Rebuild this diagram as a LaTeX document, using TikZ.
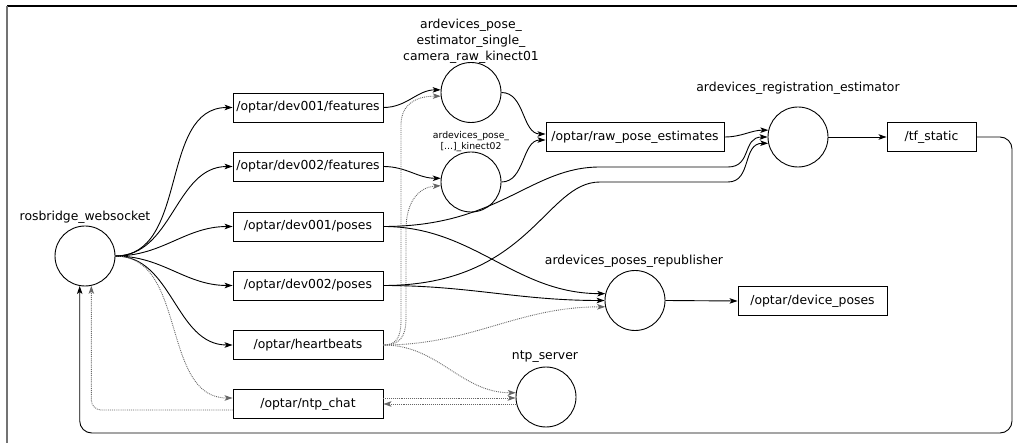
\documentclass[tikz,border=0pt]{standalone}
\usepackage{fontspec}
\setmainfont{DejaVu Sans}
\usetikzlibrary{arrows.meta,calc}
\begin{document}
\begin{tikzpicture}[x=1pt,y=-1pt,
  topic/.style={draw,line width=0.9pt,minimum height=29pt,inner sep=3pt,
    font=\fontsize{12.4}{15}\selectfont},
  proc/.style={draw,circle,line width=0.9pt,minimum size=60pt,inner sep=0pt},
  lbl/.style={font=\fontsize{12.4}{16}\selectfont,align=center,inner sep=0pt},
  smalllbl/.style={font=\fontsize{9.3}{11}\selectfont,align=center,inner sep=0pt},
  flow/.style={line width=0.9pt,-{Stealth[length=8pt,width=5.5pt,inset=2pt]}},
  ping/.style={flow,densely dotted,draw=black!60}
]
\useasboundingbox (0,0) rectangle (1017,443);

% frame
\draw[line width=1.2pt] (7,6) -- (1017,6);
\draw[black!55,line width=1.5pt] (7,6) -- (7,443);

% processes
\node[proc] (rb)  at (85,256)    {};
\node[lbl]  (rbl) at (85,217)    {rosbridge\_websocket};
\node[proc] (k1)  at (471,92.5)  {};
\node[lbl]  (k1l) at (471,41)    {ardevices\_pose\_\\estimator\_single\_\\camera\_raw\_kinect01};
\node[proc] (k2)  at (471,182)   {};
\node[smalllbl] (k2l) at (471,141.5) {ardevices\_pose\_\\{[}...{]}\_kinect02};
\node[proc] (reg) at (798,137)   {};
\node[lbl]  (regl) at (798,88)   {ardevices\_registration\_estimator};
\node[proc] (rep) at (635,300.5) {};
\node[lbl]  (repl) at (634,261)  {ardevices\_poses\_republisher};
\node[proc] (ntp) at (546,397)   {};
\node[lbl]  (ntpl) at (545,357)  {ntp\_server};

% topics
\node[topic,minimum width=150pt] (f1) at (308,107.5) {/optar/dev001/features};
\node[topic,minimum width=150pt] (f2) at (308,166.5) {/optar/dev002/features};
\node[topic,minimum width=150pt] (p1) at (308,226.5) {/optar/dev001/poses};
\node[topic,minimum width=150pt] (p2) at (308,285.5) {/optar/dev002/poses};
\node[topic,minimum width=150pt] (hb) at (308,345)   {/optar/heartbeats};
\node[topic,minimum width=150pt] (nc) at (308,404)   {/optar/ntp\_chat};
\node[topic,minimum width=178pt] (raw) at (635,137)  {/optar/raw\_pose\_estimates};
\node[topic,minimum width=89pt]  (tf) at (931.5,137) {/tf\_static};
\node[topic,minimum width=149pt] (dp) at (812.5,301) {/optar/device\_poses};

% bend points of the long connectors
\coordinate (b1) at (600,167);
\coordinate (b2) at (728,167);
\coordinate (b3) at (600,182);
\coordinate (b4) at (728,182);
\coordinate (h1a) at (401,320);
\coordinate (h1b) at (401,125);
\coordinate (h2a) at (406,318);
\coordinate (h2b) at (406,230);
\coordinate (loopR) at (1012,433);

% websocket fan-out
\draw[flow] (rb.east) to[out=0,in=180] (f1.west);
\draw[flow] (rb.east) to[out=0,in=180] (f2.west);
\draw[flow] (rb.east) to[out=0,in=180] (p1.west);
\draw[flow] (rb.east) to[out=0,in=180] (p2.west);
\draw[flow] (rb.east) to[out=0,in=180] (hb.west);
\draw[ping] (rb.east) to[out=0,in=180] ([yshift=6pt]nc.west);
\draw[ping,rounded corners=10pt] ([yshift=-6pt]nc.west) -| (rb.-78);
\draw[flow,rounded corners=12pt] (tf.east) -| (loopR) -| (rb.-100);

% pose estimators
\draw[flow] (f1.east) to[out=0,in=180] (k1.175);
\draw[flow] (f2.east) to[out=0,in=180] (k2.173);
\draw[ping] (hb.east) .. controls (396,345) and (401,338) .. (h1a) -- (h1b)
  .. controls (401,103) and (418,96) .. (k1.187);
\draw[ping] (hb.east) .. controls (399,345) and (406,338) .. (h2a) -- (h2b)
  .. controls (406,200) and (420,187) .. (k2.187);
\draw[flow] (k1.east) to[out=0,in=180] ([yshift=3pt]raw.west);
\draw[flow] (k2.east) to[out=0,in=180] ([yshift=-3pt]raw.west);

% registration
\draw[flow] (raw.east) to[out=0,in=180] (reg.167);
\draw[flow] (p1.east) .. controls (500,226.5) and (530,167) .. (b1) -- (b2)
  .. controls (752,167) and (742,137) .. (reg.west);
\draw[flow] (p2.east) .. controls (530,285.5) and (545,182) .. (b3) -- (b4)
  .. controls (752,182) and (742,143) .. (reg.192);
\draw[flow] (reg.east) -- (tf.west);

% republisher
\draw[flow] (p1.east) to[out=0,in=180] (rep.167);
\draw[flow] (p2.east) to[out=0,in=180] (rep.west);
\draw[ping] (hb.east) to[out=0,in=180] (rep.192);
\draw[flow] (rep.east) -- (dp.west);

% time sync
\draw[ping] (hb.east) to[out=0,in=180] (ntp.172);
\draw[ping] ([yshift=6pt]nc.east) -- ([yshift=6pt]nc.east -| ntp.west);
\draw[ping] (nc.east -| ntp.west) -- (nc.east);
\end{tikzpicture}
\end{document}
